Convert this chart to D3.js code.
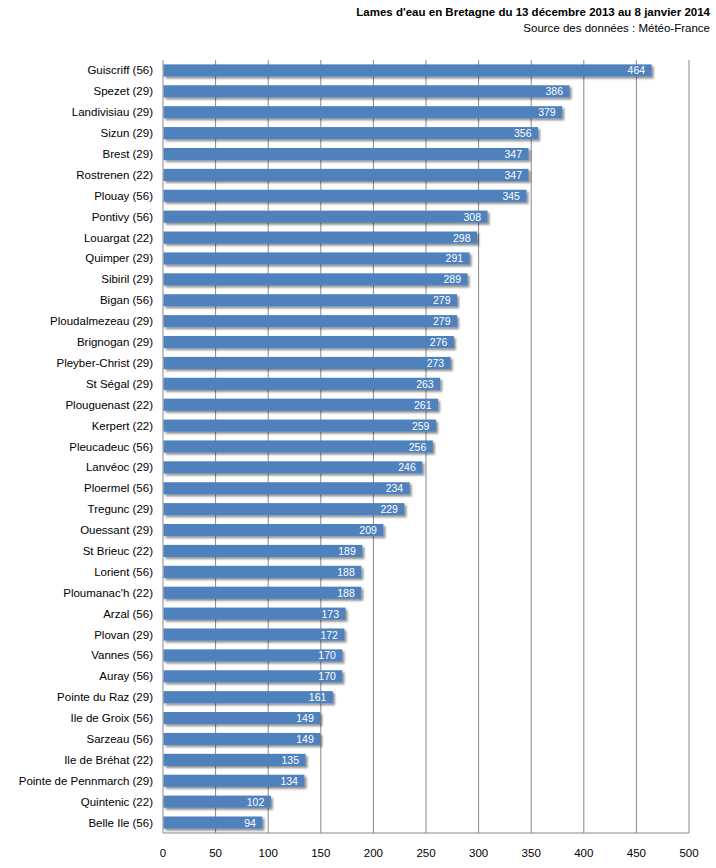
<!DOCTYPE html>
<html><head><meta charset="utf-8">
<script src="https://cdn.jsdelivr.net/npm/d3@7"></script>
<style>body{margin:0;background:#fff}text{font-family:"Liberation Sans",Arial,sans-serif}</style>
</head><body><svg id="c" width="716" height="868"></svg>
<script>
const categories=["Guiscriff (56)","Spezet (29)","Landivisiau (29)","Sizun (29)","Brest (29)","Rostrenen (22)","Plouay (56)","Pontivy (56)","Louargat (22)","Quimper (29)","Sibiril (29)","Bigan (56)","Ploudalmezeau (29)","Brignogan (29)","Pleyber-Christ (29)","St Ségal (29)","Plouguenast (22)","Kerpert (22)","Pleucadeuc (56)","Lanvéoc (29)","Ploermel (56)","Tregunc (29)","Ouessant (29)","St Brieuc (22)","Lorient (56)","Ploumanac'h (22)","Arzal (56)","Plovan (29)","Vannes (56)","Auray (56)","Pointe du Raz (29)","Ile de Groix (56)","Sarzeau (56)","Ile de Bréhat (22)","Pointe de Pennmarch (29)","Quintenic (22)","Belle Ile (56)"];
const values=[464,386,379,356,347,347,345,308,298,291,289,279,279,276,273,263,261,259,256,246,234,229,209,189,188,188,173,172,170,170,161,149,149,135,134,102,94];
const ticks=[0,50,100,150,200,250,300,350,400,450,500];
const svg=d3.select("#c");
const L=163,R=689,T=60,B=833;
const x=d3.scaleLinear().domain([0,500]).range([L,R]);
const y=d3.scaleBand().domain(categories).range([T,B]).paddingInner(0.42).paddingOuter(0.21);
const defs=svg.append("defs");
const f=defs.append("filter").attr("id","sh").attr("x","-5%").attr("y","-50%").attr("width","120%").attr("height","250%");
f.append("feDropShadow").attr("dx",2).attr("dy",2).attr("stdDeviation",1.2).attr("flood-color","#000").attr("flood-opacity",0.45);
svg.append("text").attr("x",710).attr("y",16).attr("text-anchor","end").attr("font-size",11.5).attr("font-weight","bold").text("Lames d'eau en Bretagne du 13 décembre 2013 au 8 janvier 2014");
svg.append("text").attr("x",710).attr("y",32).attr("text-anchor","end").attr("font-size",11.5).text("Source des données : Météo-France");
svg.append("g").selectAll("line").data(ticks.slice(1)).join("line").attr("x1",d=>x(d)).attr("x2",d=>x(d)).attr("y1",T).attr("y2",B).attr("stroke","#888").attr("stroke-width",1);
svg.append("line").attr("x1",L).attr("x2",L).attr("y1",T).attr("y2",B).attr("stroke","#888");
svg.append("line").attr("x1",L).attr("x2",R).attr("y1",B).attr("y2",B).attr("stroke","#888");
svg.append("g").selectAll("text").data(ticks).join("text").attr("x",d=>x(d)).attr("y",857).attr("text-anchor","middle").attr("font-size",11.5).text(d=>d);
svg.append("g").selectAll("text").data(categories).join("text").attr("x",153).attr("y",d=>y(d)+y.bandwidth()/2+4).attr("text-anchor","end").attr("font-size",11.5).text(d=>d);
const g=svg.append("g").selectAll("g").data(values).join("g");
g.append("rect").attr("x",L+0.5).attr("y",(d,i)=>y(categories[i])).attr("width",d=>x(d)-L).attr("height",y.bandwidth()).attr("fill","#4F81BD").attr("filter","url(#sh)");
g.append("text").attr("x",d=>x(d)-6).attr("y",(d,i)=>y(categories[i])+y.bandwidth()/2+4).attr("text-anchor","end").attr("font-size",10.5).attr("fill","#fff").text(d=>d);
</script></body></html>
